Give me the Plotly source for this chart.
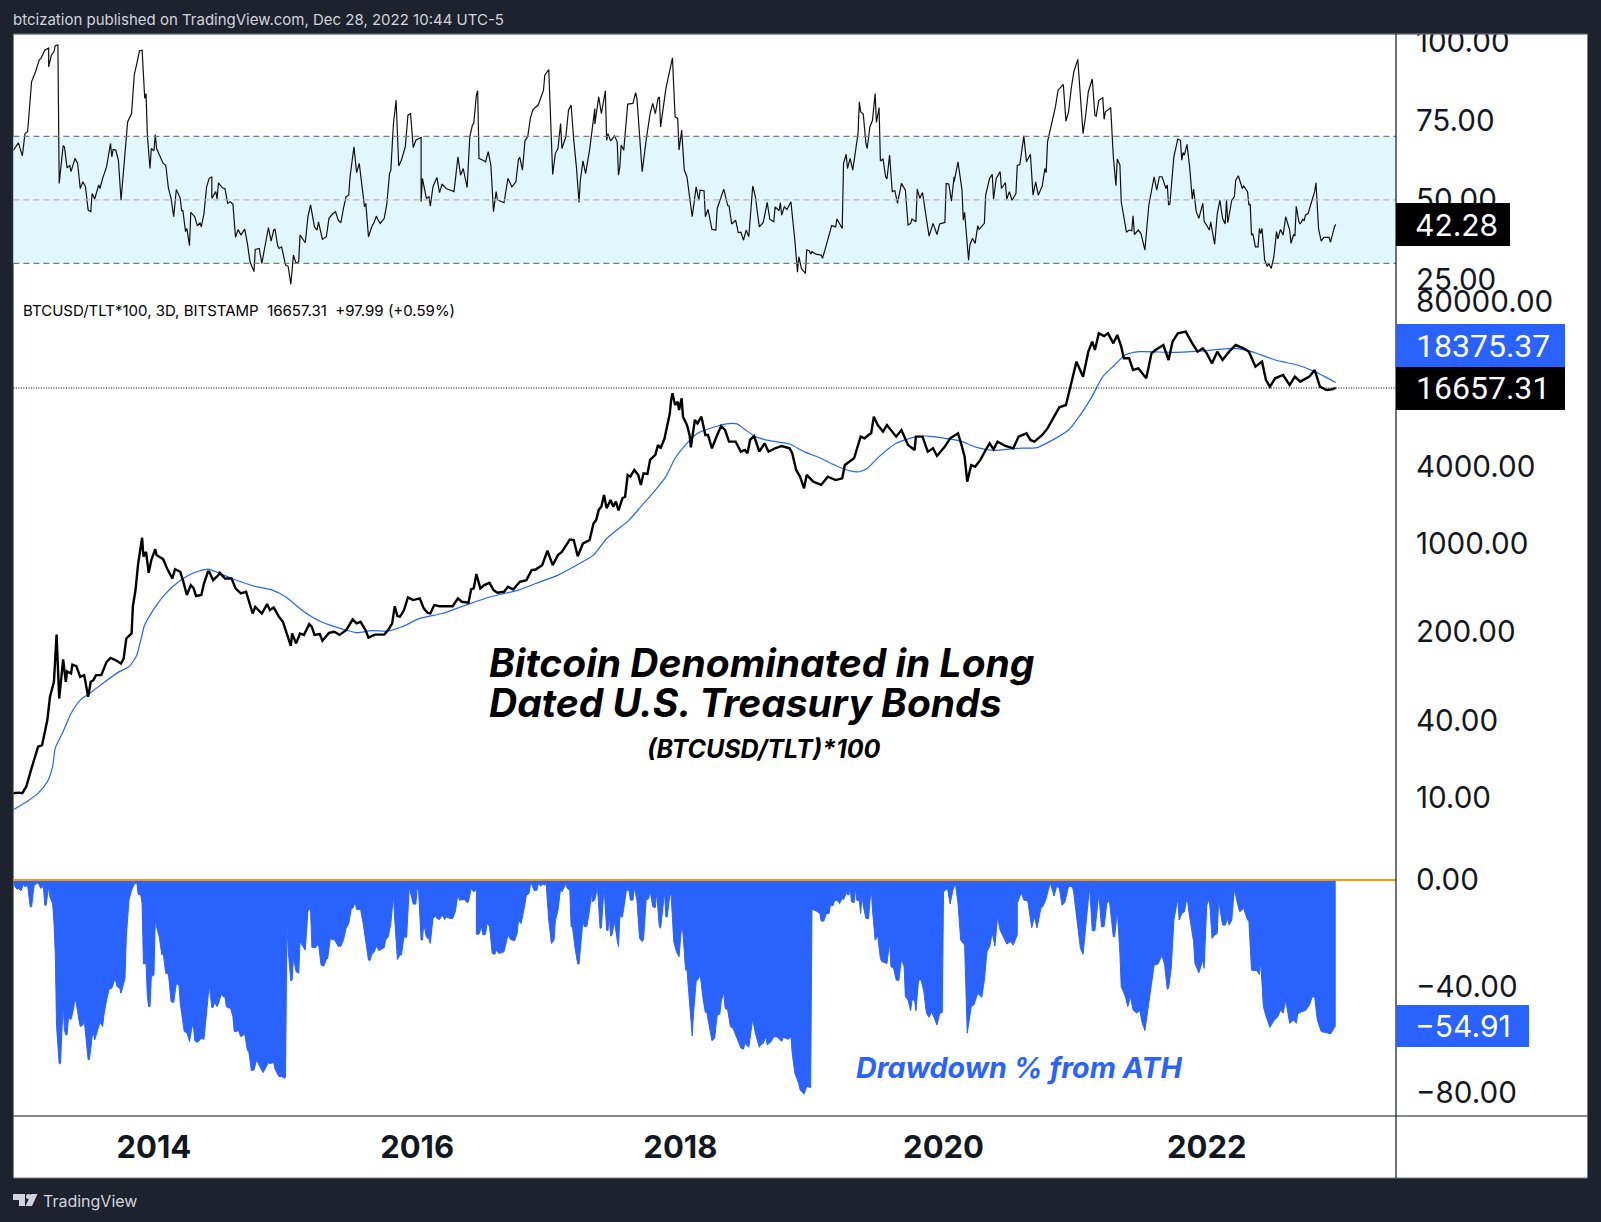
import plotly.graph_objects as go

W, H = 1601, 1222

# (years since 2000, RSI)
rsi_points = [(12.93,65.5),(12.97,68),(13.00,63.9),(13.02,70.9),(13.04,71.5),(13.07,87.2),(13.10,90.4),(13.13,94.3),(13.14,94.5),(13.17,97.2),(13.20,97.9),(13.20,91.9),(13.22,95.6),(13.24,96.7),(13.25,98.6),(13.27,98.8),(13.28,55.2),(13.31,67.1),(13.32,66.7),(13.34,60.1),(13.36,60.8),(13.37,58.9),(13.40,63.1),(13.42,61.5),(13.44,53.6),(13.46,55.7),(13.48,54.1),(13.50,46.8),(13.52,46.3),(13.53,52),(13.55,50.3),(13.58,54.7),(13.59,53.6),(13.61,56.8),(13.64,60.4),(13.67,67.8),(13.68,63.6),(13.69,65.9),(13.71,65.7),(13.73,62.5),(13.75,49.9),(13.77,59.4),(13.80,74.6),(13.83,77.2),(13.85,89.3),(13.87,93),(13.89,97),(13.91,97.2),(13.93,82),(13.94,83.5),(13.95,70.4),(13.97,59.9),(13.98,66.2),(14.00,65.5),(14.01,70.6),(14.02,66.2),(14.07,61.5),(14.09,61),(14.11,53.6),(14.13,50.5),(14.15,44.7),(14.17,53.3),(14.20,50.5),(14.21,46.6),(14.22,46.6),(14.24,40),(14.25,41),(14.27,35.6),(14.28,46.1),(14.31,44.7),(14.33,41.8),(14.35,42.8),(14.36,41.5),(14.38,45.7),(14.40,54.1),(14.42,56.8),(14.44,57.3),(14.44,50.5),(14.47,52.6),(14.48,50.3),(14.49,55.4),(14.52,53.8),(14.54,53.5),(14.56,48.9),(14.58,49.4),(14.60,48.7),(14.62,38.2),(14.64,40.7),(14.66,38.9),(14.69,40.8),(14.71,36.3),(14.73,30.5),(14.76,27.4),(14.77,34.4),(14.80,34.7),(14.82,30),(14.87,41.3),(14.89,37),(14.91,40.5),(14.92,40.7),(14.94,35.6),(14.95,34.7),(14.97,35.2),(15.00,29.5),(15.02,29),(15.04,23.4),(15.06,32.6),(15.08,30),(15.10,30.5),(15.11,38.9),(15.15,36.5),(15.17,44.7),(15.19,48.4),(15.22,41.5),(15.24,40.5),(15.25,43.1),(15.28,37.6),(15.31,38.4),(15.33,44.2),(15.36,45.7),(15.38,46.3),(15.40,43.6),(15.42,42.8),(15.44,47.3),(15.46,51),(15.48,51.5),(15.49,57.3),(15.52,66.7),(15.54,58.6),(15.56,61.5),(15.60,47.8),(15.61,48.9),(15.63,38.4),(15.66,42.1),(15.67,42.6),(15.69,44.9),(15.70,43.9),(15.72,42.6),(15.75,44.2),(15.77,48.9),(15.79,58.3),(15.80,59.4),(15.82,74.1),(15.84,81.4),(15.86,60.7),(15.88,62.5),(15.90,65.7),(15.91,66.7),(15.93,76.7),(15.95,77.2),(15.97,66.5),(15.99,68.8),(16.03,69.7),(16.03,49.4),(16.04,56.8),(16.07,50.5),(16.09,51),(16.10,48),(16.12,54.1),(16.15,57.1),(16.17,52.3),(16.19,55),(16.22,53.6),(16.28,52.6),(16.31,63.6),(16.33,57.8),(16.35,59.9),(16.38,53.9),(16.40,69.9),(16.42,73.6),(16.43,74.1),(16.45,83),(16.46,84.4),(16.47,63.1),(16.50,62.5),(16.52,62),(16.54,65.2),(16.56,61),(16.58,46.3),(16.60,52.6),(16.61,50),(16.66,49.1),(16.69,56.8),(16.72,54.1),(16.75,55.7),(16.77,62.8),(16.78,63.4),(16.80,59.4),(16.82,68.8),(16.84,69.9),(16.86,75.7),(16.88,78.5),(16.92,79.9),(16.94,82.5),(16.96,84.6),(16.97,89.3),(17.00,91.1),(17.03,58),(17.05,64.6),(17.07,66.2),(17.09,74.1),(17.10,66.2),(17.13,69.9),(17.15,78.3),(17.17,79.9),(17.19,68.8),(17.21,60.4),(17.23,49.2),(17.24,56.2),(17.26,62.3),(17.28,58.3),(17.31,65.7),(17.35,78.8),(17.35,73.9),(17.38,82.5),(17.40,77.2),(17.43,84.4),(17.44,68.8),(17.45,70.9),(17.47,68.6),(17.50,70.2),(17.52,68.3),(17.53,57.8),(17.54,60.4),(17.55,67.3),(17.57,65.7),(17.60,80.2),(17.64,80.4),(17.66,83.8),(17.67,82),(17.70,66.7),(17.71,58.9),(17.74,68.8),(17.77,77.2),(17.79,80.4),(17.81,77.2),(17.83,82),(17.84,82.5),(17.85,73),(17.87,79.9),(17.89,85.1),(17.92,90.9),(17.94,94.8),(17.96,76.2),(17.98,75.7),(17.99,65.7),(18.01,72),(18.03,59.4),(18.05,57.3),(18.09,44.7),(18.12,54.1),(18.14,49.9),
(18.15,53.1),(18.18,52.9),(18.19,44.7),(18.21,47),(18.22,44.7),(18.24,40.7),(18.27,40.5),(18.28,47.3),(18.33,53.4),(18.36,48.2),(18.37,48.1),(18.39,42.4),(18.42,43.6),(18.44,39.7),(18.46,39.8),(18.48,37.3),(18.50,40.5),(18.52,38.4),(18.55,54.4),(18.57,51),(18.60,41.5),(18.63,42.9),(18.66,49.2),(18.68,43.9),(18.71,43.1),(18.72,47.8),(18.75,46.6),(18.76,49.1),(18.77,45.2),(18.79,47.8),(18.81,47),(18.84,49.4),(18.87,37.3),(18.89,27.2),(18.90,32.1),(18.92,28.4),(18.95,26.8),(18.96,34.2),(18.98,34),(18.99,32.9),(19.00,33.7),(19.03,32.9),(19.07,32.6),(19.08,31.6),(19.10,34.4),(19.13,39.4),(19.15,41.9),(19.18,41.5),(19.19,44),(19.23,41),(19.24,61.5),(19.26,64.4),(19.27,59.9),(19.29,63.1),(19.31,59.4),(19.35,70.9),(19.36,80.9),(19.37,77.8),(19.39,77),(19.41,67.8),(19.42,66.2),(19.44,73),(19.46,75.1),(19.48,83.5),(19.49,74.4),(19.51,79.1),(19.52,62.3),(19.54,62.9),(19.56,57.3),(19.57,56.6),(19.59,64.1),(19.61,52.6),(19.63,52.9),(19.65,48.9),(19.68,55.2),(19.71,53.1),(19.73,42.1),(19.75,42.6),(19.76,44),(19.79,43.1),(19.80,53.4),(19.82,50.5),(19.84,52.3),(19.86,46.8),(19.89,38.6),(19.92,42.6),(19.94,39.8),(19.95,39.1),(19.97,42.4),(20.01,42.9),(20.02,55.2),(20.04,55),(20.06,49.6),(20.08,57.3),(20.08,55.7),(20.11,62),(20.14,53.1),(20.15,43.6),(20.16,46.1),(20.19,31),(20.20,35.8),(20.22,37.9),(20.24,36.3),(20.26,41.9),(20.27,40.7),(20.31,42.6),(20.32,51.5),(20.35,56.8),(20.37,58.1),(20.38,50.2),(20.40,56.8),(20.43,58.9),(20.44,53.6),(20.47,55.5),(20.48,50.2),(20.50,52.6),(20.52,49.9),(20.55,52),(20.56,60.8),(20.58,61.2),(20.61,70.2),(20.63,62),(20.66,64.4),(20.68,51.5),(20.70,55.7),(20.72,51.5),(20.75,54.4),(20.77,59.9),(20.78,58.6),(20.79,68.3),(20.83,75.1),(20.85,79.3),(20.87,84.6),(20.91,86.4),(20.93,74.8),(20.95,77.8),(20.97,85.1),(20.99,90.4),(21.02,94.3),(21.06,70.9),(21.08,76.7),(21.10,84.1),(21.13,88.1),(21.15,76.7),(21.16,76.4),(21.18,81.4),(21.21,82.2),(21.22,75.4),(21.23,77.8),(21.27,79.1),(21.29,63.6),(21.31,54.5),(21.32,62.9),(21.34,61),(21.35,49.4),(21.37,44.2),(21.39,39.8),(21.41,40.5),(21.43,40.3),(21.44,45),(21.45,39.1),(21.48,40.5),(21.50,39.4),(21.53,34.2),(21.56,48.4),(21.60,57.3),(21.62,53.1),(21.64,57.3),(21.66,57.3),(21.69,53.6),(21.70,54.7),(21.71,48.4),(21.72,48.7),(21.75,63.6),(21.78,69.2),(21.80,68.8),(21.81,62.5),(21.82,64.9),(21.83,64.1),(21.85,67.5),(21.87,60.4),(21.89,50.2),(21.90,53.4),(21.92,46.3),(21.94,44.2),(21.97,48.9),(21.98,43.3),(22.02,40.5),(22.03,43.1),(22.06,36),(22.08,45.7),(22.10,49.9),(22.12,44.2),(22.14,42.4),(22.15,49.9),(22.16,42.8),(22.19,49.9),(22.21,51),(22.22,56.2),(22.24,57.6),(22.27,53.6),(22.28,54.4),(22.31,52.6),(22.32,48.4),(22.33,48.7),(22.34,38.9),(22.35,39.4),(22.37,35.2),(22.39,35.2),(22.40,41),(22.41,39.4),(22.42,41),(22.44,31),(22.46,29),(22.47,30),(22.49,28.4),(22.51,32.1),(22.53,40),(22.54,37.7),(22.56,40.7),(22.58,38.9),(22.60,44.7),(22.63,40.5),(22.64,36.3),(22.66,39.1),(22.67,38.6),(22.68,48),(22.70,43.1),(22.71,42.4),(22.73,43.9),(22.74,43.4),(22.75,45.2),(22.77,45.7),(22.80,49.9),(22.82,52.6),(22.83,55.4),(22.85,40.7),(22.87,37),(22.89,38.2),(22.93,38.2),(22.94,36.6),(22.97,41.5),(22.98,42.28)]

# (years since 2000, BTCUSD/TLT*100)
price_points = [(12.93,10.8),(12.97,10.9),(13.00,10.8),(13.03,12.2),(13.07,17),(13.12,25.1),(13.15,25.8),(13.19,40.6),(13.21,61.9),(13.24,81.3),(13.26,191),(13.28,60),(13.31,122),(13.33,81.3),(13.34,98),(13.37,94.5),(13.38,111),(13.41,108),(13.44,88.9),(13.47,91.7),(13.50,62),(13.52,81.3),(13.54,83.7),(13.56,91.7),(13.60,91.7),(13.64,116.5),(13.67,125),(13.71,120),(13.75,113),(13.77,124),(13.79,178),(13.83,195),(13.84,320),(13.86,428),(13.88,693),(13.91,1103),(13.92,782),(13.94,856),(13.96,585),(13.98,736),(14.01,898),(14.02,806),(14.04,782),(14.07,750),(14.10,632),(14.14,528),(14.16,625),(14.20,596),(14.22,512),(14.25,391),(14.28,468),(14.30,446),(14.32,384),(14.36,391),(14.38,482),(14.41,596),(14.42,596),(14.45,512),(14.49,561),(14.50,585),(14.54,528),(14.59,528),(14.62,441),(14.66,403),(14.70,415),(14.75,280),(14.77,316),(14.82,280),(14.86,332),(14.88,298),(14.91,312),(14.95,264),(14.98,241),(15.00,207),(15.04,156),(15.05,195),(15.08,163),(15.11,195),(15.14,190),(15.18,231),(15.20,220),(15.22,190),(15.26,193),(15.28,171),(15.33,197),(15.37,201),(15.41,190),(15.46,207),(15.51,251),(15.54,234),(15.57,241),(15.61,205),(15.63,181),(15.68,191),(15.71,190),(15.75,191),(15.78,207),(15.81,234),(15.83,319),(15.85,267),(15.87,264),(15.90,298),(15.93,375),(15.97,357),(16.02,368),(16.05,307),(16.08,283),(16.10,280),(16.13,326),(16.17,319),(16.27,319),(16.31,368),(16.34,346),(16.39,340),(16.41,433),(16.43,441),(16.45,572),(16.48,441),(16.51,468),(16.55,488),(16.58,428),(16.61,408),(16.66,415),(16.69,454),(16.73,433),(16.78,497),(16.83,512),(16.87,614),(16.90,621),(16.95,672),(16.99,872),(17.03,672),(17.07,806),(17.10,856),(17.16,1070),(17.19,1057),(17.22,790),(17.26,995),(17.31,1057),(17.34,1430),
(17.36,1520),(17.38,1830),(17.40,1940),(17.42,2395),(17.44,1885),(17.47,2190),(17.49,1940),(17.51,2125),(17.53,1810),(17.56,2255),(17.58,2320),(17.60,3445),(17.62,3340),(17.65,3770),(17.68,3445),(17.70,2875),(17.72,3550),(17.75,3510),(17.77,4520),(17.81,4950),(17.83,5930),(17.85,5580),(17.88,6690),(17.90,8260),(17.92,10510),(17.93,13380),(17.94,15100),(17.96,12230),(17.98,12990),(17.99,11170),(18.01,13800),(18.02,9900),(18.05,8510),(18.07,7100),(18.08,5680),(18.11,9320),(18.13,8770),(18.16,9900),(18.19,7100),(18.21,7100),(18.24,5580),(18.28,7100),(18.31,8360),(18.34,7770),(18.37,6300),(18.42,6300),(18.46,5250),(18.49,5410),(18.51,5100),(18.53,6490),(18.56,6970),(18.60,5250),(18.64,6110),(18.67,5250),(18.72,5580),(18.77,5820),(18.83,5580),(18.85,5100),(18.88,3770),(18.91,3340),(18.94,2700),(18.96,3445),(19.01,3050),(19.07,2875),(19.12,3340),(19.18,3140),(19.23,3240),(19.25,4120),(19.29,4380),(19.32,4660),(19.37,6890),(19.40,6690),(19.43,7100),(19.45,7320),(19.47,9900),(19.50,8510),(19.54,7540),(19.57,8510),(19.64,6890),(19.68,7770),(19.73,5930),(19.78,5410),(19.79,6890),(19.84,6890),(19.88,5250),(19.92,5580),(19.95,4860),(20.01,5750),(20.05,6690),(20.11,7320),(20.14,5750),(20.16,4800),(20.18,3050),(20.21,4120),(20.24,4000),(20.28,4520),(20.32,5410),(20.35,6110),(20.38,5480),(20.41,6300),(20.47,5820),(20.53,5580),(20.57,6890),(20.63,7320),(20.66,6490),(20.69,6300),(20.75,7100),(20.79,8000),(20.84,9900),(20.88,11720),(20.93,12230),(20.96,16530),(20.98,20430),(21.01,26820),(21.06,20430),(21.10,32130),(21.13,38520),(21.15,33110),(21.18,44780),(21.22,42660),(21.25,44780),(21.29,37360),(21.32,43460),(21.35,35170),(21.37,28480),(21.41,28480),(21.44,23050),(21.48,23750),(21.54,19820),(21.58,31170),(21.61,33110),(21.67,36240),(21.71,27630),(21.74,38520),(21.78,44780),(21.84,46150),(21.89,37360),(21.93,32130),(21.97,34130),(22.00,31170),(22.04,26010),(22.08,32130),(22.12,27630),(22.17,32130),(22.22,36240),(22.28,34130),(22.32,32130),(22.37,24480),(22.42,26820),(22.45,19230),(22.48,17040),(22.52,19820),(22.58,21060),(22.63,17570),(22.67,20430),(22.71,18660),(22.78,20430),(22.82,23050),(22.86,17040),(22.91,16040),(22.95,16240),(22.98,16657.31)]

# (years since 2000, moving average)
ma_points = [(12.93,8),(13.03,9.2),(13.12,10.8),(13.19,13.3),(13.23,17.5),(13.25,24.4),(13.31,33),(13.37,45.8),(13.44,58.3),(13.51,65.8),(13.61,78.8),(13.73,96.8),(13.81,106.6),(13.87,132),(13.90,173),(13.93,228),(14.02,326),(14.09,403),(14.19,500),(14.29,578),(14.41,625),(14.53,561),(14.66,497),(14.76,460),(14.90,428),(15.00,379),(15.14,289),(15.27,241),(15.44,210),(15.54,198),(15.65,205),(15.78,204),(15.88,219),(16.02,256),(16.19,280),(16.39,332),(16.56,379),(16.77,428),(16.90,482),(17.07,561),(17.21,672),(17.34,806),(17.44,1090),(17.61,1520),(17.70,1940),(17.81,2620),(17.89,3340),(17.96,4660),(18.05,6110),(18.13,7320),(18.24,8100),(18.35,8680),(18.43,8680),(18.48,8000),(18.57,6890),(18.68,6410),(18.83,6030),(18.94,5250),(19.05,4740),(19.20,4000),(19.29,3710),(19.36,3650),(19.42,3880),(19.51,4800),(19.64,6110),(19.77,6810),(19.88,6970),(20.01,6690),(20.12,6410),(20.25,5680),(20.38,5380),(20.56,5580),(20.71,5650),(20.82,6410),(20.95,7770),(21.03,9900),(21.12,13800),(21.21,20430),(21.30,25210),(21.38,30240),(21.49,32130),(21.73,31730),(21.95,32500),(22.21,34130),(22.34,32130),(22.52,27630),(22.69,25210),(22.82,22360),(22.98,18375.37)]

# (years since 2000, drawdown %)
drawdown_points = [(12.93,-1.5),(12.96,-3.5),(12.97,-3.1),(12.99,-4),(13.01,-1.3),(13.02,-2.5),(13.04,-2),(13.06,-10),(13.07,-10),(13.08,-6.3),(13.09,-1.8),(13.12,-1),(13.14,-3.1),(13.16,-2.3),(13.17,-9.4),(13.18,-9.4),(13.20,-2.5),(13.21,-6.3),(13.23,-8.8),(13.24,-15.6),(13.25,-27.5),(13.26,-55),(13.28,-69),(13.29,-68.8),(13.31,-46.3),(13.32,-56.3),(13.33,-58.1),(13.34,-58.1),(13.35,-51.9),(13.37,-52.3),(13.39,-48.1),(13.40,-44.1),(13.41,-46.3),(13.43,-52.5),(13.44,-55),(13.46,-54.4),(13.47,-52.5),(13.50,-67.5),(13.51,-67.3),(13.53,-58.8),(13.54,-57.5),(13.55,-60),(13.57,-56.3),(13.59,-53.4),(13.61,-55),(13.62,-50.6),(13.64,-45),(13.66,-41),(13.68,-40.6),(13.70,-37.5),(13.71,-38.1),(13.72,-40),(13.74,-40.6),(13.75,-42.5),(13.78,-36.9),(13.79,-21.3),(13.81,-7.5),(13.83,-3.8),(13.85,-1.5),(13.87,-1),(13.88,-5.3),(13.90,-5.6),(13.91,-8.8),(13.92,-31.5),(13.94,-31.3),(13.95,-43.8),(13.96,-47.5),(13.97,-47.5),(13.98,-36.3),(14.00,-35.6),(14.01,-14.4),(14.02,-17.5),(14.04,-21.3),(14.06,-28.1),(14.07,-27.5),(14.09,-35),(14.11,-35.3),(14.13,-45.6),(14.15,-46),(14.17,-38.8),(14.19,-39.4),(14.20,-46.3),(14.23,-56.9),(14.25,-57.3),(14.27,-60.6),(14.29,-55),(14.30,-54.8),(14.31,-60.3),(14.33,-61),(14.36,-59.4),(14.38,-59.8),(14.40,-50),(14.42,-39.4),(14.44,-47.9),(14.45,-47.8),(14.46,-46),(14.48,-47.5),(14.49,-46.3),(14.51,-43.1),(14.54,-44),(14.55,-47.5),(14.57,-48.1),(14.58,-47.8),(14.60,-51.3),(14.61,-56.9),(14.63,-56.9),(14.64,-56.3),(14.66,-58.8),(14.69,-57.8),(14.71,-64),(14.72,-64.1),(14.74,-71.5),(14.76,-71.3),(14.78,-67.5),(14.80,-69.8),(14.81,-70.6),(14.83,-72.3),(14.85,-70.3),(14.87,-68.5),(14.88,-69),(14.91,-68.5),(14.92,-71),(14.95,-73.8),(14.97,-73.8),(14.99,-74.4),(15.00,-74),(15.01,-16.3),(15.02,-26.3),(15.04,-37.8),(15.05,-37.5),(15.06,-28.8),(15.08,-34.4),(15.10,-35),(15.11,-23.1),(15.14,-25.6),(15.15,-26.3),(15.17,-11.3),(15.19,-11),(15.20,-25.3),(15.23,-25.3),(15.25,-23.8),(15.27,-31.9),(15.29,-32.3),(15.31,-29.8),(15.32,-29.4),(15.34,-21.9),(15.36,-22.5),(15.37,-22.3),(15.40,-24.8),(15.42,-24.8),(15.44,-22.5),(15.46,-18.1),(15.48,-16.3),(15.50,-10.6),(15.51,-10.6),(15.53,-8.4),(15.54,-11),(15.57,-11),(15.59,-16.3),(15.61,-22.5),(15.63,-30),(15.64,-30.3),(15.66,-27.3),(15.67,-27.3),(15.69,-24.8),(15.71,-26.5),(15.75,-25.3),(15.76,-22.5),(15.78,-21.3),(15.80,-16.3),(15.82,-5.6),(15.83,-15),(15.85,-29.8),(15.87,-28.1),(15.88,-28.1),(15.90,-21.3),(15.92,-21.5),(15.94,-2.5),(15.95,-4.4),(15.97,-9),(15.99,-9),(16.00,-3.1),(16.01,-3.1),(16.03,-22.5),(16.04,-22.5),(16.05,-16.3),(16.07,-21.3),(16.09,-22.3),(16.10,-23.8),(16.12,-14.4),(16.14,-13.5),(16.15,-14.4),(16.17,-14.8),(16.19,-13.1),(16.21,-14.8),(16.22,-13.8),(16.25,-14.4),(16.27,-14.4),(16.29,-11.9),(16.31,-5),(16.32,-7.5),(16.36,-7.3),(16.38,-8.5),(16.39,-8.1),(16.41,-3.1),(16.43,-4.4),(16.45,-3.5),(16.45,-20.3),(16.47,-20.3),(16.49,-17.5),(16.50,-20.6),(16.52,-20.3),(16.53,-16.3),(16.55,-17.3),(16.57,-27.5),(16.59,-27.9),(16.60,-26.3),(16.62,-27.5),(16.64,-27.3),(16.66,-26.9),(16.69,-20.6),(16.71,-22.3),(16.74,-22.8),(16.76,-20),(16.77,-15),(16.79,-16.3),(16.82,-8.8),(16.83,-5.6),(16.85,-5),(16.86,-1.9),(16.87,-1.3),(16.89,-4),(16.91,-3.8),(16.92,-1.3),(16.94,-2.3),(16.95,-1.5),(16.97,-1.9),(16.98,-1),(17.00,-15),(17.02,-23.8),(17.04,-22.5),(17.05,-15.3),(17.07,-11.3),(17.09,-3.1),(17.10,-4.4),(17.13,-1.3),(17.14,-3.1),(17.16,-3.8),(17.17,-17.5),(17.18,-17.5),(17.20,-25.6),(17.22,-31.5),(17.23,-31.5),(17.25,-18.8),(17.26,-15),(17.27,-17.5),(17.29,-17.3),(17.31,-11.3),(17.33,-3.1),(17.33,-8.1),(17.35,-7.5),(17.37,-2.5),(17.39,-18.1),(17.40,-17.9),(17.42,-2.3),(17.44,-18.8),(17.45,-19),(17.46,-13.1),(17.47,-21),(17.48,-20.6),(17.50,-15.6),(17.52,-22.5),(17.53,-25),(17.54,-13.8),(17.56,-13.8),(17.59,-3.8),(17.61,-3.8),(17.62,-7.5),(17.64,-7.5),(17.65,-2.8),(17.67,-7.5),(17.69,-21.9),(17.71,-23.1),(17.72,-22.3),(17.74,-7.5),(17.76,-6.9),(17.77,-3.8),(17.79,-10),(17.81,-10.3),(17.82,-4.6),(17.84,-17.5),(17.85,-18.1),(17.88,-4.4),(17.89,-13.8),(17.90,-13.8),(17.92,-5.6),(17.93,-5.6),(17.95,-23.1),(17.97,-26.9),(17.99,-28.8),(18.01,-16.9),(18.02,-20),(18.04,-33.8),(18.05,-33.5),(18.06,-40),(18.08,-55),(18.09,-58.5),(18.10,-50),(18.12,-38.1),(18.14,-36.9),
(18.15,-35),(18.17,-43.8),(18.19,-49.8),(18.20,-49.4),(18.23,-58.1),(18.24,-60.3),(18.26,-59.4),(18.28,-50.6),(18.30,-50.3),(18.31,-45.6),(18.33,-41.9),(18.34,-48.1),(18.36,-48.8),(18.38,-55),(18.40,-55.6),(18.42,-58.1),(18.44,-60.6),(18.46,-63.1),(18.48,-63.5),(18.49,-61.3),(18.52,-62.8),(18.54,-55.6),(18.55,-52.1),(18.57,-57.5),(18.60,-62.8),(18.61,-61.9),(18.63,-61.3),(18.65,-58.8),(18.66,-61.9),(18.69,-60.6),(18.71,-58.8),(18.74,-59),(18.77,-60.6),(18.78,-59),(18.82,-59.8),(18.84,-58.8),(18.85,-65),(18.87,-72.5),(18.90,-76.5),(18.91,-78.8),(18.94,-80.4),(18.96,-77.5),(18.99,-77.9),(19.00,-11),(19.03,-11.5),(19.06,-12.5),(19.07,-15.4),(19.09,-15.4),(19.11,-12.5),(19.13,-12.5),(19.14,-9.4),(19.16,-9.6),(19.17,-7.8),(19.19,-7.5),(19.21,-8.8),(19.23,-6.9),(19.24,-7.3),(19.26,-5),(19.28,-5.6),(19.29,-2.8),(19.30,-8.1),(19.32,-8.5),(19.33,-2.5),(19.34,-7.5),(19.36,-7.8),(19.37,-12.5),(19.38,-5.6),(19.39,-9.6),(19.41,-14.4),(19.43,-14.4),(19.45,-2.5),(19.46,-11.3),(19.48,-22.5),(19.50,-21),(19.52,-29.4),(19.53,-30.6),(19.57,-31.3),(19.59,-23.1),(19.60,-32.5),(19.62,-33.1),(19.64,-37.5),(19.66,-37.8),(19.68,-29.6),(19.70,-32.5),(19.71,-43.8),(19.73,-45),(19.75,-49),(19.76,-45),(19.78,-45),(19.79,-49.1),(19.81,-37.5),(19.83,-37.5),(19.85,-41.9),(19.87,-50),(19.89,-51.5),(19.91,-49.4),(19.93,-52.3),(19.95,-54.4),(19.97,-50),(19.99,-49.8),(20.00,-4.4),(20.03,-3.1),(20.05,-9),(20.07,-3.8),(20.09,-1.3),(20.11,-8.8),(20.13,-22.5),(20.16,-24.4),(20.18,-57.5),(20.21,-47.5),(20.23,-46.9),(20.26,-42.5),(20.29,-44),(20.31,-37.5),(20.33,-26.9),(20.35,-25),(20.37,-19.8),(20.39,-24.8),(20.41,-13.8),(20.43,-18.8),(20.46,-21.9),(20.48,-24),(20.51,-23.1),(20.53,-24.4),(20.56,-20.6),(20.56,-8.8),(20.59,-4.6),(20.61,-7.5),(20.64,-7.8),(20.67,-17.9),(20.69,-13.8),(20.71,-17.9),(20.74,-10.6),(20.76,-9.4),(20.78,-6.9),(20.81,-1),(20.84,-6),(20.86,-2.3),(20.88,-3.1),(20.90,-9.4),(20.92,-8.5),(20.95,-2.3),(20.98,-2.5),(20.99,-5),(21.02,-17.5),(21.04,-25.6),(21.06,-27.9),(21.08,-16.9),(21.11,-2.3),(21.13,-19),(21.15,-19),(21.18,-5),(21.20,-17.5),(21.22,-17.5),(21.24,-8.8),(21.26,-7.5),(21.29,-21.3),(21.30,-21.3),(21.32,-11.3),(21.34,-27.5),(21.35,-40),(21.38,-43.5),(21.40,-47.5),(21.42,-43.8),(21.44,-48.8),(21.47,-50),(21.49,-48.8),(21.51,-53.8),(21.53,-56.5),(21.57,-42.5),(21.60,-31.9),(21.63,-31.5),(21.66,-28.1),(21.68,-31.9),(21.70,-41),(21.71,-40.6),(21.73,-33.1),(21.75,-15),(21.78,-6.9),(21.79,-15),(21.81,-12.5),(21.83,-11.9),(21.85,-6.3),(21.87,-13.8),(21.90,-23.1),(21.91,-31.3),(21.94,-34.8),(21.97,-30),(21.98,-33.1),(22.00,-9.4),(22.02,-6.9),(22.04,-21.9),(22.06,-20.6),(22.08,-20),(22.09,-7.3),(22.12,-16.9),(22.14,-16.9),(22.16,-14.4),(22.17,-16.9),(22.19,-15),(22.21,-3.1),(22.23,-8.1),(22.25,-11.9),(22.28,-10.6),(22.31,-15),(22.32,-15.3),(22.34,-33.8),(22.38,-34),(22.40,-35.4),(22.41,-30.6),(22.43,-47.5),(22.45,-51),(22.48,-55.3),(22.51,-52.8),(22.54,-51.3),(22.56,-48.8),(22.58,-50),(22.60,-45),(22.62,-50.3),(22.63,-53.8),(22.66,-52.5),(22.68,-53.8),(22.69,-50.3),(22.72,-49.4),(22.75,-49),(22.78,-46.9),(22.80,-44),(22.82,-43.8),(22.84,-52.5),(22.87,-56.9),(22.91,-57.3),(22.94,-57.8),(22.97,-55.4),(22.98,-54.91)]

year_ticks = [2014, 2016, 2018, 2020, 2022]
rsi_ticks = [100, 75, 50, 25]
price_ticks = [80000, 4000, 1000, 200, 40, 10]
drawdown_ticks = [0, -40, -80]
rsi_levels = [70, 50, 30]
last_rsi = 42.28
last_price = 16657.31
last_ma = 18375.37
last_dd = -54.91

BG = "#1e222d"
BLUE = "#2962ff"
FONT = "Inter"

def split(points):
    return [2000 + p[0] for p in points], [p[1] for p in points]

def fx(px):
    return px / W

def fy(py):
    return 1 - py / H

L, AX, R, TOP, BOT = 13.4, 1396, 1587.5, 34, 1178
S1, S2, S3 = 290, 853.5, 1116

fig = go.Figure()
xs, ys = split(rsi_points)
fig.add_trace(go.Scatter(x=xs, y=ys, mode="lines", line=dict(color="#111111", width=1.2), xaxis="x", yaxis="y"))
xs, ys = split(ma_points)
fig.add_trace(go.Scatter(x=xs, y=ys, mode="lines", line=dict(color=BLUE, width=1.2, shape="spline", smoothing=0.6), xaxis="x", yaxis="y2"))
xs, ys = split(price_points)
fig.add_trace(go.Scatter(x=xs, y=ys, mode="lines", line=dict(color="#000000", width=2.4), xaxis="x", yaxis="y2"))
xs, ys = split(drawdown_points)
fig.add_trace(go.Scatter(x=xs, y=ys, mode="lines", fill="tozeroy", fillcolor=BLUE, line=dict(color=BLUE, width=1), xaxis="x", yaxis="y3"))

def rect(x0, y0, x1, y1, color, layer="above", line=None):
    return dict(type="rect", xref="paper", yref="paper", x0=fx(x0), x1=fx(x1), y0=fy(y0), y1=fy(y1),
                fillcolor=color, line=line or dict(width=0), layer=layer)

def seg(x0, y0, x1, y1, color="#131722", width=1.2):
    return dict(type="line", xref="paper", yref="paper", x0=fx(x0), x1=fx(x1), y0=fy(y0), y1=fy(y1),
                line=dict(color=color, width=width), layer="above")

def poly(pts, color):
    d = "M " + " L ".join(f"{fx(a):.5f},{fy(b):.5f}" for a, b in pts) + " Z"
    return dict(type="path", xref="paper", yref="paper", path=d, fillcolor=color, line=dict(width=0), layer="above")

shapes = [
    rect(L, TOP, R, BOT, "#ffffff", "below", dict(color="#787b86", width=1)),
    dict(type="rect", xref="x domain", yref="y", x0=0, x1=1, y0=rsi_levels[2], y1=rsi_levels[0],
         fillcolor="#e2f7fb", line=dict(width=0), layer="below"),
]
for lev, col in zip(rsi_levels, ["#787b86", "#b2b5be", "#787b86"]):
    shapes.append(dict(type="line", xref="x domain", yref="y", x0=0, x1=1, y0=lev, y1=lev,
                       line=dict(color=col, width=1.2, dash="6px,4px"), layer="above"))
shapes += [
    dict(type="line", xref="x domain", yref="y2", x0=0, x1=1, y0=last_price, y1=last_price,
         line=dict(color="#000000", width=1.1, dash="1px,1.5px"), layer="above"),
    dict(type="line", xref="x domain", yref="y3", x0=0, x1=1, y0=0, y1=0,
         line=dict(color="#ff9800", width=2), layer="above"),
    rect(0, 0, W, TOP, BG),
    seg(L, TOP, R, TOP, "#787b86", 1),
    seg(AX, TOP, AX, BOT),
    seg(L, S3, R, S3),
    rect(AX, 203, 1510, 246, "#000000"),
    rect(AX, 324, 1565, 367, BLUE),
    rect(AX, 367, 1565, 410, "#000000"),
    rect(AX, 1005, 1529, 1047, BLUE),
    poly([(13, 1194), (25, 1194), (25, 1206), (19, 1206), (19, 1200), (13, 1200)], "#d1d4dc"),
    poly([(31, 1194), (37.5, 1194), (32, 1206), (25.5, 1206)], "#d1d4dc"),
    dict(type="circle", xref="paper", yref="paper", x0=fx(26), x1=fx(31), y0=fy(1194), y1=fy(1199),
         fillcolor="#d1d4dc", line=dict(width=0), layer="above"),
]

def note(text, x, y, size, color="#000000", anchor="left", bold=False, italic=False, family=FONT):
    return dict(xref="paper", yref="paper", x=fx(x), y=fy(y), text=text, showarrow=False, xanchor=anchor, yanchor="middle",
                align="left", font=dict(family=family, size=size, color=color,
                                        weight=700 if bold else 400, style="italic" if italic else "normal"))

annotations = [
    note("btcization published on TradingView.com, Dec 28, 2022 10:44 UTC-5", 11, 19.5, 15, "#d1d4dc"),
    note("BTCUSD/TLT*100, 3D, BITSTAMP&nbsp;&nbsp;16657.31&nbsp;&nbsp;+97.99 (+0.59%)", 21, 310, 15),
    note("Bitcoin Denominated in Long", 487, 662, 39, bold=True, italic=True),
    note("Dated U.S. Treasury Bonds", 487, 702, 39, bold=True, italic=True),
    note("(BTCUSD/TLT)*100", 764, 749, 25, anchor="center", bold=True, italic=True),
    note("Drawdown % from ATH", 854, 1067, 28.6, BLUE, bold=True, italic=True),
    note(f"{last_rsi:.2f}", 1413, 224.5, 30, "#ffffff"),
    note(f"{last_ma:.2f}", 1414, 345.5, 32, "#ffffff", family="Roboto"),
    note(f"{last_price:.2f}", 1414, 388.5, 32, "#ffffff", family="Roboto"),
    note(f"\u2212{abs(last_dd):.2f}", 1413, 1026, 30, "#ffffff"),
    note("TradingView", 41, 1201, 16, "#d1d4dc"),
]

def y_axis(dom, rng, ticks, **kw):
    return dict(domain=[fy(dom[1]), fy(dom[0])], range=rng, tickmode="array", tickvals=ticks,
                tickformat=".2f", side="right", anchor="x", showgrid=False, zeroline=False, showline=False,
                automargin=False, ticks="outside", ticklen=13, tickwidth=0, tickcolor="rgba(0,0,0,0)",
                tickfont=dict(family=FONT, size=29.6, color="#131722"), fixedrange=True, **kw)

fig.update_layout(
    width=W, height=H, margin=dict(l=0, r=0, t=0, b=0), autosize=False,
    paper_bgcolor=BG, plot_bgcolor="rgba(0,0,0,0)", showlegend=False,
    font=dict(family=FONT),
    xaxis=dict(domain=[fx(L), fx(AX)], range=[2012.932, 2023.438], tickmode="array", tickvals=year_ticks,
               ticktext=[str(y) for y in year_ticks], anchor="y3", side="bottom", showgrid=False, zeroline=False,
               showline=False, automargin=False, ticks="outside", ticklen=4, tickwidth=0, tickcolor="rgba(0,0,0,0)",
               tickfont=dict(family=FONT, size=31, color="#131722", weight=700), fixedrange=True),
    yaxis=y_axis((TOP, S1), [21.6, 102.3], rsi_ticks),
    yaxis2=y_axis((S1, S2), [0.559, 4.992], price_ticks, type="log"),
    yaxis3=y_axis((S2, S3), [-88.6, 10], drawdown_ticks),
    shapes=shapes, annotations=annotations,
)

fig.write_html("out.html", post_script="document.body.style.margin='0';document.body.style.overflow='hidden';",
               config={"displayModeBar": False})
